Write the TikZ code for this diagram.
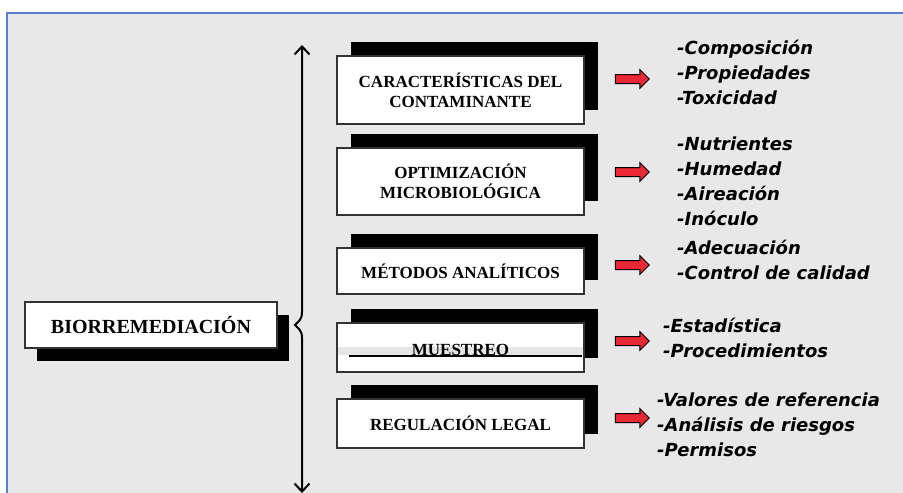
\documentclass[tikz,border=0pt]{standalone}
\usepackage{fontspec}
\setmainfont{Liberation Serif}
\newfontfamily\listfont{DejaVu Sans}
\usetikzlibrary{shapes.arrows,shadows,arrows.meta}
\definecolor{fondo}{RGB}{232,232,232}
\definecolor{marco}{RGB}{90,125,205}
\definecolor{flecha}{RGB}{232,40,52}
\tikzstyle{caja}=[draw=black!80,line width=1.2pt,fill=white,minimum width=247pt,inner sep=0pt,align=center,font=\fontsize{17}{20}\selectfont\bfseries,drop shadow={shadow xshift=14pt,shadow yshift=14pt,fill=black,opacity=1}]
\tikzstyle{raiz}=[draw=black!80,line width=1.2pt,fill=white,minimum width=252pt,minimum height=46pt,inner sep=0pt,font=\fontsize{20}{22}\selectfont\bfseries,drop shadow={shadow xshift=12pt,shadow yshift=-13pt,fill=black,opacity=1}]
\tikzstyle{fl}=[single arrow,draw=black,line width=1pt,fill=flecha,minimum height=34pt,single arrow head extend=5pt,inner xsep=0pt,inner ysep=4pt]
\tikzstyle{lista}=[anchor=west,align=left,inner sep=0pt,font=\listfont\fontsize{18}{25}\selectfont\bfseries\itshape]
\tikzstyle{llave}=[line width=2pt,{Straight Barb[length=8pt,width=15pt]}-{Straight Barb[length=8pt,width=15pt]}]

\begin{document}
\begin{tikzpicture}[x=1pt,y=-1pt]
\useasboundingbox (0,0) rectangle (903,493);
\fill[fondo] (7,13) rectangle (903,493);
\draw[marco,line width=1.5pt] (7,493) -- (7,13) -- (903,13);

\node[raiz] (bio) at (151,325) {BIORREMEDIACIÓN};
\draw[llave] (302,45) -- (302,312) .. controls (302,321) and (297,322) .. (295,325) .. controls (297,328) and (302,329) .. (302,338) -- (302,493);

\node[caja,minimum height=68pt] (carac) at (460.5,90) {CARACTERÍSTICAS DEL\\CONTAMINANTE};
\node[caja,minimum height=67pt] (optim) at (460.5,181.5) {OPTIMIZACIÓN\\MICROBIOLÓGICA};
\node[caja,minimum height=46pt] (metod) at (460.5,271) {MÉTODOS ANALÍTICOS};
\node[caja,minimum height=49pt] (muest) at (460.5,347.5) {};
\fill[black!10] (338,347) rectangle (583,355);
\draw[line width=1.2pt] (349,356) -- (582,356);
\node[anchor=base,inner sep=0pt,font=\fontsize{17}{20}\selectfont\bfseries] (muestt) at (460.5,355) {MUESTREO};
\node[caja,minimum height=49pt] (regul) at (460.5,423.5) {REGULACIÓN LEGAL};

\node[fl] (f1) at (630,79) {};
\node[fl] (f2) at (630,172) {};
\node[fl] (f3) at (630,265) {};
\node[fl] (f4) at (630,341) {};
\node[fl] (f5) at (630,418) {};

\node[lista] (l1) at (677,72.5) {-Composición\\-Propiedades\\-Toxicidad};
\node[lista] (l2) at (677,181) {-Nutrientes\\-Humedad\\-Aireación\\-Inóculo};
\node[lista] (l3) at (677,260) {-Adecuación\\-Control de calidad};
\node[lista] (l4) at (663,337.5) {-Estadística\\-Procedimientos};
\node[lista] (l5) at (657,424.5) {-Valores de referencia\\-Análisis de riesgos\\-Permisos};
\end{tikzpicture}
\end{document}
